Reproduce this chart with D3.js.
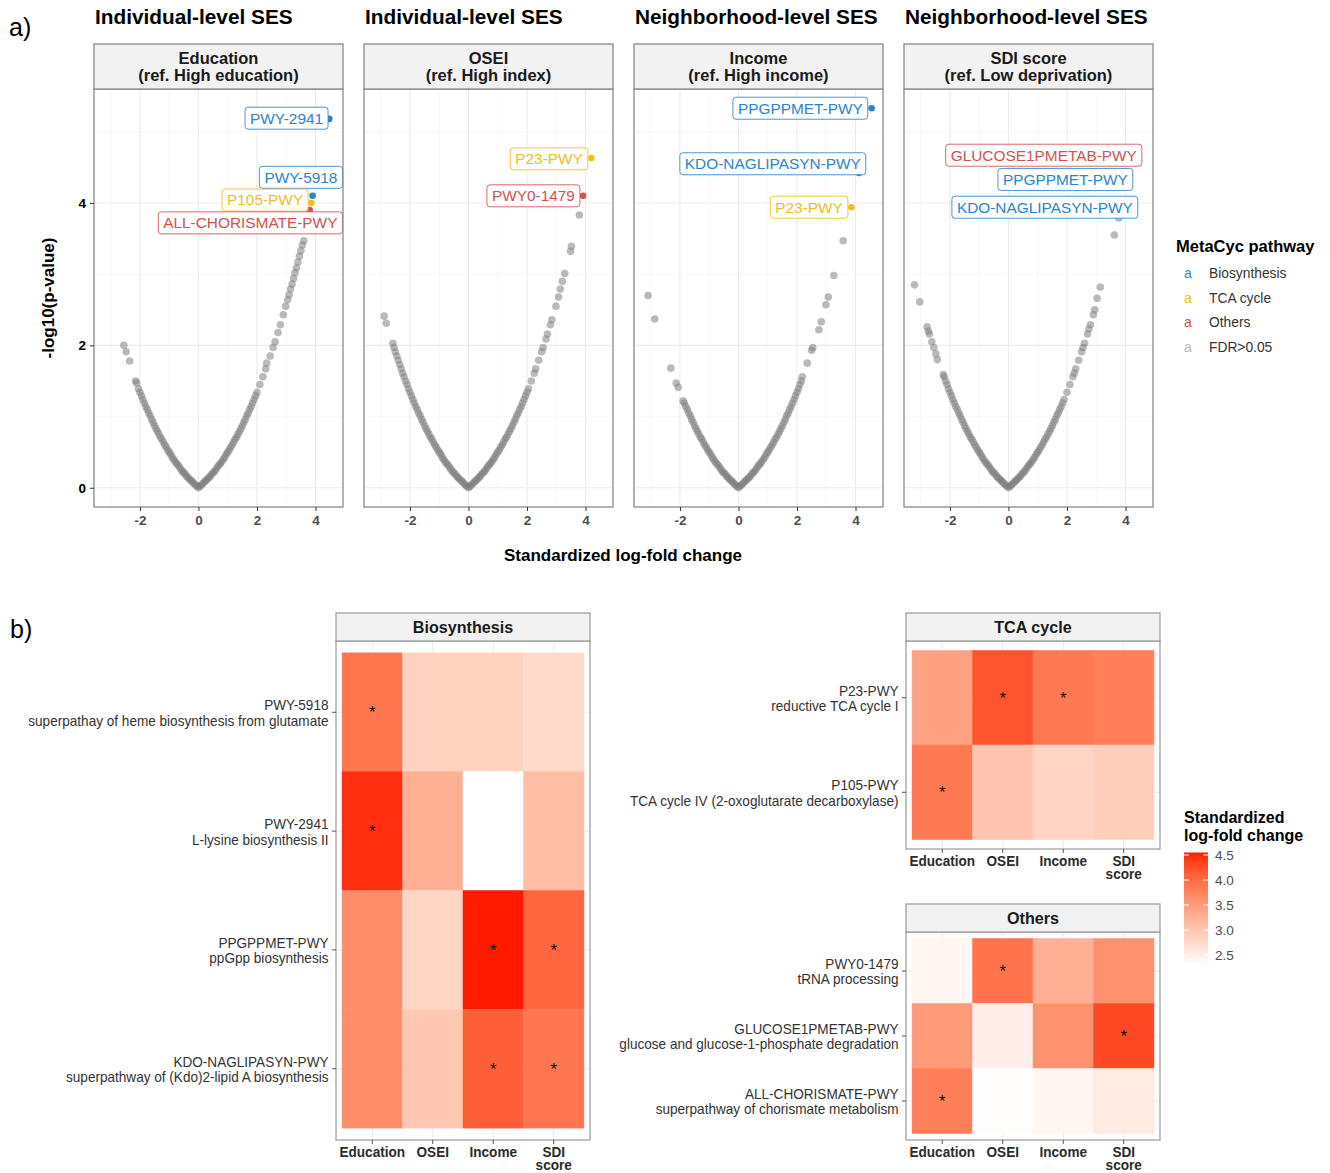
<!DOCTYPE html>
<html><head><meta charset="utf-8">
<script src="https://cdn.jsdelivr.net/npm/d3@7"></script>
<style>body{margin:0;background:#fff;} svg{display:block;}</style>
</head><body><svg id="chart" width="1330" height="1173"></svg>
<script>
// ===================== DATA =====================
// Panel a: volcano facets
const volcanoFacets = ["Education", "OSEI", "Income", "SDI score"];
const facetRefs = ["(ref. High education)", "(ref. High index)", "(ref. High income)", "(ref. Low deprivation)"];
const facetTitles = ["Individual-level SES", "Individual-level SES", "Neighborhood-level SES", "Neighborhood-level SES"];
const xTickValues = [-2, 0, 2, 4];
const yTickValues = [0, 2, 4];

// grey (FDR>0.05) pathways: [standardized LFC, -log10(p)]
const eduGrey = [[-2.55,2.00],[-2.47,1.91],[-2.35,1.78],[-2.15,1.50],[-2.11,1.47],[-2.05,1.39],
[-2.00,1.34],[-1.95,1.29],[-1.90,1.24],[-1.85,1.19],[-1.80,1.14],[-1.75,1.10],[-1.70,1.05],[-1.65,1.01],[-1.60,0.96],[-1.55,0.92],[-1.50,0.87],[-1.45,0.83],[-1.40,0.79],[-1.35,0.75],[-1.30,0.71],[-1.25,0.68],[-1.20,0.64],[-1.15,0.60],[-1.10,0.57],[-1.05,0.53],[-1.00,0.50],[-0.95,0.47],[-0.90,0.43],[-0.85,0.40],[-0.80,0.37],[-0.75,0.34],[-0.70,0.32],[-0.65,0.29],[-0.60,0.26],[-0.55,0.23],[-0.50,0.21],[-0.45,0.19],[-0.40,0.16],[-0.35,0.14],[-0.30,0.12],[-0.25,0.10],[-0.20,0.08],[-0.15,0.06],[-0.10,0.04],[-0.05,0.02],[0,0],
[0.05,0.02],[0.10,0.04],[0.15,0.06],[0.20,0.08],[0.25,0.10],[0.30,0.12],[0.35,0.14],[0.40,0.16],[0.45,0.19],[0.50,0.21],[0.55,0.23],[0.60,0.26],[0.65,0.29],[0.70,0.32],[0.75,0.34],[0.80,0.37],[0.85,0.40],[0.90,0.43],[0.95,0.47],[1.00,0.50],[1.05,0.53],[1.10,0.57],[1.15,0.60],[1.20,0.64],[1.25,0.68],[1.30,0.71],[1.35,0.75],[1.40,0.79],[1.45,0.83],[1.50,0.87],[1.55,0.92],[1.60,0.96],[1.65,1.01],[1.70,1.05],[1.75,1.10],[1.80,1.14],[1.85,1.19],[1.90,1.24],[1.95,1.29],[2.00,1.34],
[2.10,1.45],[2.20,1.56],[2.30,1.67],[2.33,1.75],[2.45,1.85],[2.55,1.97],[2.62,2.05],[2.72,2.18],[2.80,2.29],[2.90,2.43],[2.98,2.55],[3.05,2.64],[3.10,2.71],[3.15,2.79],[3.20,2.86],[3.25,2.94],[3.30,3.02],[3.35,3.09],[3.40,3.17],[3.45,3.25],[3.50,3.33],[3.55,3.41],[3.60,3.47]];

const oseiGrey = [[-2.88,2.41],[-2.81,2.31],[-2.58,2.03],[-2.55,1.97],[-2.50,1.91],[-2.45,1.85],[-2.40,1.79],[-2.35,1.73],[-2.30,1.67],[-2.25,1.61],[-2.20,1.56],[-2.15,1.50],[-2.10,1.45],[-2.05,1.39],
[-2.00,1.34],[-1.95,1.29],[-1.90,1.24],[-1.85,1.19],[-1.80,1.14],[-1.75,1.10],[-1.70,1.05],[-1.65,1.01],[-1.60,0.96],[-1.55,0.92],[-1.50,0.87],[-1.45,0.83],[-1.40,0.79],[-1.35,0.75],[-1.30,0.71],[-1.25,0.68],[-1.20,0.64],[-1.15,0.60],[-1.10,0.57],[-1.05,0.53],[-1.00,0.50],[-0.95,0.47],[-0.90,0.43],[-0.85,0.40],[-0.80,0.37],[-0.75,0.34],[-0.70,0.32],[-0.65,0.29],[-0.60,0.26],[-0.55,0.23],[-0.50,0.21],[-0.45,0.19],[-0.40,0.16],[-0.35,0.14],[-0.30,0.12],[-0.25,0.10],[-0.20,0.08],[-0.15,0.06],[-0.10,0.04],[-0.05,0.02],[0,0],
[0.05,0.02],[0.10,0.04],[0.15,0.06],[0.20,0.08],[0.25,0.10],[0.30,0.12],[0.35,0.14],[0.40,0.16],[0.45,0.19],[0.50,0.21],[0.55,0.23],[0.60,0.26],[0.65,0.29],[0.70,0.32],[0.75,0.34],[0.80,0.37],[0.85,0.40],[0.90,0.43],[0.95,0.47],[1.00,0.50],[1.05,0.53],[1.10,0.57],[1.15,0.60],[1.20,0.64],[1.25,0.68],[1.30,0.71],[1.35,0.75],[1.40,0.79],[1.45,0.83],[1.50,0.87],[1.55,0.92],[1.60,0.96],[1.65,1.01],[1.70,1.05],[1.75,1.10],[1.80,1.14],[1.85,1.19],[1.90,1.24],[1.95,1.29],[2.00,1.34],
[2.05,1.39],[2.15,1.50],[2.25,1.61],[2.30,1.67],[2.40,1.79],[2.50,1.91],[2.55,1.97],[2.65,2.09],[2.70,2.16],[2.80,2.29],[2.85,2.36],[2.99,2.55],[3.08,2.68],[3.14,2.79],[3.21,2.90],[3.29,3.01],[3.49,3.32],[3.52,3.39],[3.79,3.83]];

const incomeGrey = [[-3.09,2.70],[-2.86,2.37],[-2.31,1.68],[-2.13,1.47],[-2.06,1.41],[-1.89,1.22],
[-1.85,1.19],[-1.80,1.14],[-1.75,1.10],[-1.70,1.05],[-1.65,1.01],[-1.60,0.96],[-1.55,0.92],[-1.50,0.87],[-1.45,0.83],[-1.40,0.79],[-1.35,0.75],[-1.30,0.71],[-1.25,0.68],[-1.20,0.64],[-1.15,0.60],[-1.10,0.57],[-1.05,0.53],[-1.00,0.50],[-0.95,0.47],[-0.90,0.43],[-0.85,0.40],[-0.80,0.37],[-0.75,0.34],[-0.70,0.32],[-0.65,0.29],[-0.60,0.26],[-0.55,0.23],[-0.50,0.21],[-0.45,0.19],[-0.40,0.16],[-0.35,0.14],[-0.30,0.12],[-0.25,0.10],[-0.20,0.08],[-0.15,0.06],[-0.10,0.04],[-0.05,0.02],[0,0],
[0.05,0.02],[0.10,0.04],[0.15,0.06],[0.20,0.08],[0.25,0.10],[0.30,0.12],[0.35,0.14],[0.40,0.16],[0.45,0.19],[0.50,0.21],[0.55,0.23],[0.60,0.26],[0.65,0.29],[0.70,0.32],[0.75,0.34],[0.80,0.37],[0.85,0.40],[0.90,0.43],[0.95,0.47],[1.00,0.50],[1.05,0.53],[1.10,0.57],[1.15,0.60],[1.20,0.64],[1.25,0.68],[1.30,0.71],[1.35,0.75],[1.40,0.79],[1.45,0.83],[1.50,0.87],[1.55,0.92],[1.60,0.96],[1.65,1.01],[1.70,1.05],[1.75,1.10],[1.80,1.14],[1.85,1.19],[1.90,1.24],[1.95,1.29],[2.00,1.34],
[2.05,1.39],[2.10,1.45],[2.15,1.50],[2.18,1.56],[2.35,1.75],[2.50,1.93],[2.54,1.97],[2.75,2.22],[2.83,2.33],[2.99,2.57],[3.07,2.68],[3.26,2.98],[3.58,3.47]];

const sdiGrey = [[-3.21,2.85],[-3.03,2.61],[-2.78,2.26],[-2.74,2.20],[-2.70,2.16],[-2.62,2.05],[-2.55,1.97],[-2.48,1.88],[-2.43,1.80],[-2.23,1.59],[-2.20,1.56],[-2.15,1.50],[-2.10,1.45],[-2.05,1.39],
[-2.00,1.34],[-1.95,1.29],[-1.90,1.24],[-1.85,1.19],[-1.80,1.14],[-1.75,1.10],[-1.70,1.05],[-1.65,1.01],[-1.60,0.96],[-1.55,0.92],[-1.50,0.87],[-1.45,0.83],[-1.40,0.79],[-1.35,0.75],[-1.30,0.71],[-1.25,0.68],[-1.20,0.64],[-1.15,0.60],[-1.10,0.57],[-1.05,0.53],[-1.00,0.50],[-0.95,0.47],[-0.90,0.43],[-0.85,0.40],[-0.80,0.37],[-0.75,0.34],[-0.70,0.32],[-0.65,0.29],[-0.60,0.26],[-0.55,0.23],[-0.50,0.21],[-0.45,0.19],[-0.40,0.16],[-0.35,0.14],[-0.30,0.12],[-0.25,0.10],[-0.20,0.08],[-0.15,0.06],[-0.10,0.04],[-0.05,0.02],[0,0],
[0.05,0.02],[0.10,0.04],[0.15,0.06],[0.20,0.08],[0.25,0.10],[0.30,0.12],[0.35,0.14],[0.40,0.16],[0.45,0.19],[0.50,0.21],[0.55,0.23],[0.60,0.26],[0.65,0.29],[0.70,0.32],[0.75,0.34],[0.80,0.37],[0.85,0.40],[0.90,0.43],[0.95,0.47],[1.00,0.50],[1.05,0.53],[1.10,0.57],[1.15,0.60],[1.20,0.64],[1.25,0.68],[1.30,0.71],[1.35,0.75],[1.40,0.79],[1.45,0.83],[1.50,0.87],[1.55,0.92],[1.60,0.96],[1.65,1.01],[1.70,1.05],[1.75,1.10],[1.80,1.14],[1.85,1.19],[1.90,1.24],
[2.00,1.34],[2.10,1.45],[2.20,1.56],[2.25,1.61],[2.30,1.67],[2.40,1.79],[2.50,1.91],[2.55,1.97],[2.60,2.03],[2.70,2.16],[2.75,2.23],[2.80,2.29],[2.90,2.43],[2.95,2.50],[3.03,2.66],[3.14,2.82],[3.62,3.55],[3.77,3.79]];

// significant (FDR<0.05) pathways in volcano plots
const sigFacet    = [0, 0, 0, 0, 1, 1, 2, 2, 2, 3, 3, 3];
const sigName     = ["PWY-2941", "PWY-5918", "P105-PWY", "ALL-CHORISMATE-PWY", "P23-PWY", "PWY0-1479",
                     "PPGPPMET-PWY", "KDO-NAGLIPASYN-PWY", "P23-PWY", "GLUCOSE1PMETAB-PWY", "PPGPPMET-PWY", "KDO-NAGLIPASYN-PWY"];
const sigCategory = ["Biosynthesis", "Biosynthesis", "TCA cycle", "Others", "TCA cycle", "Others",
                     "Biosynthesis", "Biosynthesis", "TCA cycle", "Others", "Biosynthesis", "Biosynthesis"];
const sigLfc      = [4.47, 3.90, 3.86, 3.80, 4.20, 3.92, 4.55, 4.12, 3.86, 4.30, 4.05, 3.88];
const sigLogP     = [5.18, 4.10, 4.00, 3.90, 4.63, 4.10, 5.33, 4.42, 3.94, 4.77, 4.28, 3.95];

const legendCategories = ["Biosynthesis", "TCA cycle", "Others", "FDR>0.05"];

// Panel b: heatmaps
const heatColumns = ["Education", "OSEI", "Income", "SDI score"];
const bioRows = ["PWY-5918", "PWY-2941", "PPGPPMET-PWY", "KDO-NAGLIPASYN-PWY"];
const bioDesc = ["superpathay of heme biosynthesis from glutamate", "L-lysine biosynthesis II", "ppGpp biosynthesis", "superpathway of (Kdo)2-lipid A biosynthesis"];
const bioValues = [[3.90, 2.86, 2.86, 2.75], [4.47, 3.25, 2.30, 3.10], [3.65, 2.80, 4.55, 4.05], [3.65, 2.97, 4.12, 3.88]];
const bioSig = [[1, 0, 0, 0], [1, 0, 0, 0], [0, 0, 1, 1], [0, 0, 1, 1]];

const tcaRows = ["P23-PWY", "P105-PWY"];
const tcaDesc = ["reductive TCA cycle I", "TCA cycle IV (2-oxoglutarate decarboxylase)"];
const tcaValues = [[3.42, 4.20, 3.86, 3.80], [3.86, 3.00, 2.82, 2.90]];
const tcaSig = [[0, 1, 1, 0], [1, 0, 0, 0]];

const otherRows = ["PWY0-1479", "GLUCOSE1PMETAB-PWY", "ALL-CHORISMATE-PWY"];
const otherDesc = ["tRNA processing", "glucose and glucose-1-phosphate degradation", "superpathway of chorismate metabolism"];
const otherValues = [[2.42, 3.92, 3.25, 3.60], [3.50, 2.50, 3.60, 4.30], [3.80, 2.33, 2.42, 2.55]];
const otherSig = [[0, 1, 0, 0], [0, 0, 0, 1], [1, 0, 0, 0]];

const colorbarTicks = [2.5, 3.0, 3.5, 4.0, 4.5];

// ===================== LAYOUT / STYLE =====================
const FONT = "'Liberation Sans', Arial, Helvetica, sans-serif";
const catColor = {"Biosynthesis": "#2A84D2", "TCA cycle": "#EDC01C", "Others": "#D4504F", "FDR>0.05": "#BDBDBD"};
// label box placement (right edge LFC, centre -log10p) as ggrepel put them
const labelRight = [4.43, 4.92, 3.75, 4.92, 4.08, 3.81, 4.42, 4.35, 3.74, 4.56, 4.25, 4.42];
const labelMid   = [5.19, 4.36, 4.04, 3.72, 4.62, 4.10, 5.33, 4.55, 3.94, 4.67, 4.33, 3.94];

const svg = d3.select("#chart").attr("font-family", FONT);

// ---------------- Panel a ----------------
const PL = [94, 364, 634, 904], PW = 249, STRIP_T = 44, PLOT_T = 89, PLOT_B = 507;
const xV = d3.scaleLinear().domain([-3.57, 4.94]).range([0, PW]);
const yV = d3.scaleLinear().domain([-0.27, 5.6]).range([PLOT_B, PLOT_T]);
const greyByFacet = [eduGrey, oseiGrey, incomeGrey, sdiGrey];

svg.append("text").attr("x", 9).attr("y", 36).attr("font-size", 25).attr("fill", "#000").text("a)");

volcanoFacets.forEach((facet, i) => {
  const g = svg.append("g").attr("transform", `translate(${PL[i]},0)`);
  g.append("text").attr("x", 1).attr("y", 24).attr("font-size", 20.8).attr("font-weight", "bold").attr("fill", "#000").text(facetTitles[i]);
  g.append("rect").attr("x", 0).attr("y", PLOT_T).attr("width", PW).attr("height", PLOT_B - PLOT_T).attr("fill", "#fff");
  // grid
  [-3, -1, 1, 3].forEach(v => g.append("line").attr("x1", xV(v)).attr("x2", xV(v)).attr("y1", PLOT_T).attr("y2", PLOT_B).attr("stroke", "#F3F3F3").attr("stroke-width", 0.7));
  [1, 3, 5].forEach(v => g.append("line").attr("y1", yV(v)).attr("y2", yV(v)).attr("x1", 0).attr("x2", PW).attr("stroke", "#F3F3F3").attr("stroke-width", 0.7));
  xTickValues.forEach(v => g.append("line").attr("x1", xV(v)).attr("x2", xV(v)).attr("y1", PLOT_T).attr("y2", PLOT_B).attr("stroke", "#EBEBEB").attr("stroke-width", 1.1));
  yTickValues.forEach(v => g.append("line").attr("y1", yV(v)).attr("y2", yV(v)).attr("x1", 0).attr("x2", PW).attr("stroke", "#EBEBEB").attr("stroke-width", 1.1));

  // grey points
  g.append("g").selectAll("circle").data(greyByFacet[i]).join("circle")
    .attr("cx", d => xV(d[0])).attr("cy", d => yV(d[1])).attr("r", 3.8)
    .attr("fill", "#7a7a7a").attr("fill-opacity", 0.52);

  const idx = sigFacet.map((f, k) => f === i ? k : -1).filter(k => k >= 0);
  // coloured points
  g.append("g").selectAll("circle").data(idx).join("circle")
    .attr("cx", k => xV(sigLfc[k])).attr("cy", k => yV(sigLogP[k])).attr("r", 3.3)
    .attr("fill", k => catColor[sigCategory[k]]);
  // labels
  idx.forEach(k => {
    const lg = g.append("g");
    const box = lg.append("rect");
    const t = lg.append("text").attr("font-size", 15.4).attr("fill", catColor[sigCategory[k]]).attr("text-anchor", "middle").text(sigName[k]);
    const tw = t.node().getComputedTextLength();
    const w = tw + 10, h = 22;
    const xr = xV(labelRight[k]), yc = yV(labelMid[k]);
    box.attr("x", xr - w).attr("y", yc - h / 2).attr("width", w).attr("height", h).attr("rx", 3)
      .attr("fill", "#fff").attr("stroke", catColor[sigCategory[k]]).attr("stroke-width", 1).attr("stroke-opacity", 0.85);
    t.attr("x", xr - w / 2).attr("y", yc + 5.4);
  });

  // panel border
  g.append("rect").attr("x", 0).attr("y", PLOT_T).attr("width", PW).attr("height", PLOT_B - PLOT_T).attr("fill", "none").attr("stroke", "#8a8a8a").attr("stroke-width", 1.3);
  // strip
  g.append("rect").attr("x", 0).attr("y", STRIP_T).attr("width", PW).attr("height", PLOT_T - STRIP_T).attr("fill", "#F2F2F2").attr("stroke", "#8a8a8a").attr("stroke-width", 1.3);
  const st = g.append("text").attr("text-anchor", "middle").attr("font-size", 16.5).attr("font-weight", "bold").attr("fill", "#1a1a1a");
  st.append("tspan").attr("x", PW / 2).attr("y", 64).text(facet);
  st.append("tspan").attr("x", PW / 2).attr("y", 81).text(facetRefs[i]);

  // x axis
  const ax = g.append("g").attr("transform", `translate(0,${PLOT_B})`)
    .call(d3.axisBottom(xV).tickValues(xTickValues).tickSize(4).tickPadding(4).tickFormat(d => String(d)));
  ax.select(".domain").remove();
  ax.selectAll(".tick line").attr("stroke", "#333");
  ax.selectAll(".tick text").attr("font-family", FONT).attr("font-size", 13.5).attr("font-weight", "bold").attr("fill", "#4d4d4d");
});

// y axis (first facet)
const ay = svg.append("g").attr("transform", `translate(${PL[0]},0)`)
  .call(d3.axisLeft(yV).tickValues(yTickValues).tickSize(4).tickPadding(4).tickFormat(d => String(d)));
ay.select(".domain").remove();
ay.selectAll(".tick line").attr("stroke", "#333");
ay.selectAll(".tick text").attr("font-family", FONT).attr("font-size", 13.5).attr("font-weight", "bold").attr("fill", "#000");

svg.append("text").attr("x", 623).attr("y", 561).attr("text-anchor", "middle").attr("font-size", 17).attr("font-weight", "bold").attr("fill", "#000").text("Standardized log-fold change");
svg.append("text").attr("transform", `translate(54,298) rotate(-90)`).attr("text-anchor", "middle").attr("font-size", 17).attr("font-weight", "bold").attr("fill", "#000").text("-log10(p-value)");

// legend
svg.append("text").attr("x", 1176).attr("y", 252).attr("font-size", 16.5).attr("font-weight", "bold").attr("fill", "#000").text("MetaCyc pathway");
legendCategories.forEach((c, j) => {
  const yy = 278 + j * 24.5;
  svg.append("text").attr("x", 1188).attr("y", yy).attr("text-anchor", "middle").attr("font-size", 14).attr("fill", catColor[c]).text("a");
  svg.append("text").attr("x", 1209).attr("y", yy).attr("font-size", 13.8).attr("fill", "#333").text(c);
});

// ---------------- Panel b ----------------
svg.append("text").attr("x", 10).attr("y", 638).attr("font-size", 25).attr("fill", "#000").text("b)");

const allHeat = [].concat(...bioValues, ...tcaValues, ...otherValues);
const heatExtent = d3.extent(allHeat);
const heatColor = d3.scaleLinear().domain(heatExtent).range(["#FFFFFF", "#FF1A00"]).interpolate(d3.interpolateLab);
const SQ = 0.97; // slight horizontal squeeze of heatmap text, as in the figure

// multi-line squeezed text as ONE text element with tspans
function squeezedLines(parent, x, y, lines, lineGap, size, weight, anchor, fill) {
  const t = parent.append("g").attr("transform", `translate(${x},${y}) scale(${SQ},1)`)
    .append("text").attr("text-anchor", anchor)
    .attr("font-size", size).attr("font-weight", weight).attr("fill", fill);
  lines.forEach((s, li) => t.append("tspan").attr("x", 0).attr("y", li * lineGap).text(s));
}

function heatPanel(title, left, right, stripTop, top, bottom, rows, desc, values, sig) {
  const g = svg.append("g");
  const xb = d3.scaleBand().domain(heatColumns).range([left, right]).paddingInner(0).paddingOuter(0.1);
  const yb = d3.scaleBand().domain(rows).range([top, bottom]).paddingInner(0).paddingOuter(0.1);
  g.append("rect").attr("x", left).attr("y", top).attr("width", right - left).attr("height", bottom - top).attr("fill", "#fff");
  heatColumns.forEach(c => g.append("line").attr("x1", xb(c) + xb.bandwidth() / 2).attr("x2", xb(c) + xb.bandwidth() / 2).attr("y1", top).attr("y2", bottom).attr("stroke", "#EBEBEB").attr("stroke-width", 1.1));
  rows.forEach(r => g.append("line").attr("y1", yb(r) + yb.bandwidth() / 2).attr("y2", yb(r) + yb.bandwidth() / 2).attr("x1", left).attr("x2", right).attr("stroke", "#EBEBEB").attr("stroke-width", 1.1));

  const cells = [];
  rows.forEach((r, ri) => heatColumns.forEach((c, ci) => cells.push({r, c, v: values[ri][ci], s: sig[ri][ci]})));
  g.append("g").selectAll("rect").data(cells).join("rect")
    .attr("x", d => xb(d.c)).attr("y", d => yb(d.r)).attr("width", xb.bandwidth()).attr("height", yb.bandwidth())
    .attr("fill", d => heatColor(d.v)).attr("stroke", d => heatColor(d.v)).attr("stroke-width", 0.5);
  g.append("g").selectAll("text").data(cells.filter(d => d.s)).join("text")
    .attr("x", d => xb(d.c) + xb.bandwidth() / 2).attr("y", d => yb(d.r) + yb.bandwidth() / 2 + 6)
    .attr("text-anchor", "middle").attr("font-size", 17).attr("fill", "#111").text("*");

  g.append("rect").attr("x", left).attr("y", top).attr("width", right - left).attr("height", bottom - top).attr("fill", "none").attr("stroke", "#999").attr("stroke-width", 1.2);
  g.append("rect").attr("x", left).attr("y", stripTop).attr("width", right - left).attr("height", top - stripTop).attr("fill", "#F2F2F2").attr("stroke", "#999").attr("stroke-width", 1.2);
  g.append("g").attr("transform", `translate(${(left + right) / 2},${stripTop + 20}) scale(0.95,1)`)
    .append("text").attr("text-anchor", "middle").attr("font-size", 17).attr("font-weight", "bold").attr("fill", "#1a1a1a").text(title);

  // x axis ticks & labels
  heatColumns.forEach(c => {
    const cx = xb(c) + xb.bandwidth() / 2;
    g.append("line").attr("x1", cx).attr("x2", cx).attr("y1", bottom).attr("y2", bottom + 4).attr("stroke", "#555");
    squeezedLines(g, cx, bottom + 16.5, c.split(" "), 14, 14, "bold", "middle", "#2b2b2b");
  });
  // y axis ticks & labels
  rows.forEach((r, ri) => {
    const cy = yb(r) + yb.bandwidth() / 2;
    g.append("line").attr("x1", left - 4).attr("x2", left).attr("y1", cy).attr("y2", cy).attr("stroke", "#555");
    squeezedLines(g, left - 7.5, cy - 2, [r, desc[ri]], 15.5, 14, "normal", "end", "#333");
  });
}

heatPanel("Biosynthesis", 336, 590, 613, 641, 1140, bioRows, bioDesc, bioValues, bioSig);
heatPanel("TCA cycle", 906, 1160, 613, 641, 849, tcaRows, tcaDesc, tcaValues, tcaSig);
heatPanel("Others", 906, 1160, 904, 932, 1140, otherRows, otherDesc, otherValues, otherSig);

// colour bar
const cb = d3.scaleLinear().domain([2.5, 4.5]).range([955, 855]);
const defs = svg.append("defs");
const grad = defs.append("linearGradient").attr("id", "cbgrad").attr("x1", 0).attr("y1", 1).attr("x2", 0).attr("y2", 0);
d3.range(0, 1.0001, 0.05).forEach(t => grad.append("stop").attr("offset", t).attr("stop-color", heatColor(heatExtent[0] + t * (heatExtent[1] - heatExtent[0]))));
const cbTop = cb(heatExtent[1]), cbBot = cb(heatExtent[0]);
svg.append("rect").attr("x", 1184).attr("y", cbTop).attr("width", 24).attr("height", cbBot - cbTop).attr("fill", "url(#cbgrad)");
colorbarTicks.forEach(v => {
  svg.append("line").attr("x1", 1184).attr("x2", 1189).attr("y1", cb(v)).attr("y2", cb(v)).attr("stroke", "#fff").attr("stroke-width", 1);
  svg.append("line").attr("x1", 1203).attr("x2", 1208).attr("y1", cb(v)).attr("y2", cb(v)).attr("stroke", "#fff").attr("stroke-width", 1);
  svg.append("text").attr("x", 1215).attr("y", cb(v) + 5).attr("font-size", 13.5).attr("fill", "#4d4d4d").text(v.toFixed(1));
});
const cbt = svg.append("text").attr("font-size", 16).attr("font-weight", "bold").attr("fill", "#000");
cbt.append("tspan").attr("x", 1184).attr("y", 823).text("Standardized");
cbt.append("tspan").attr("x", 1184).attr("y", 841).text("log-fold change");
</script></body></html>
